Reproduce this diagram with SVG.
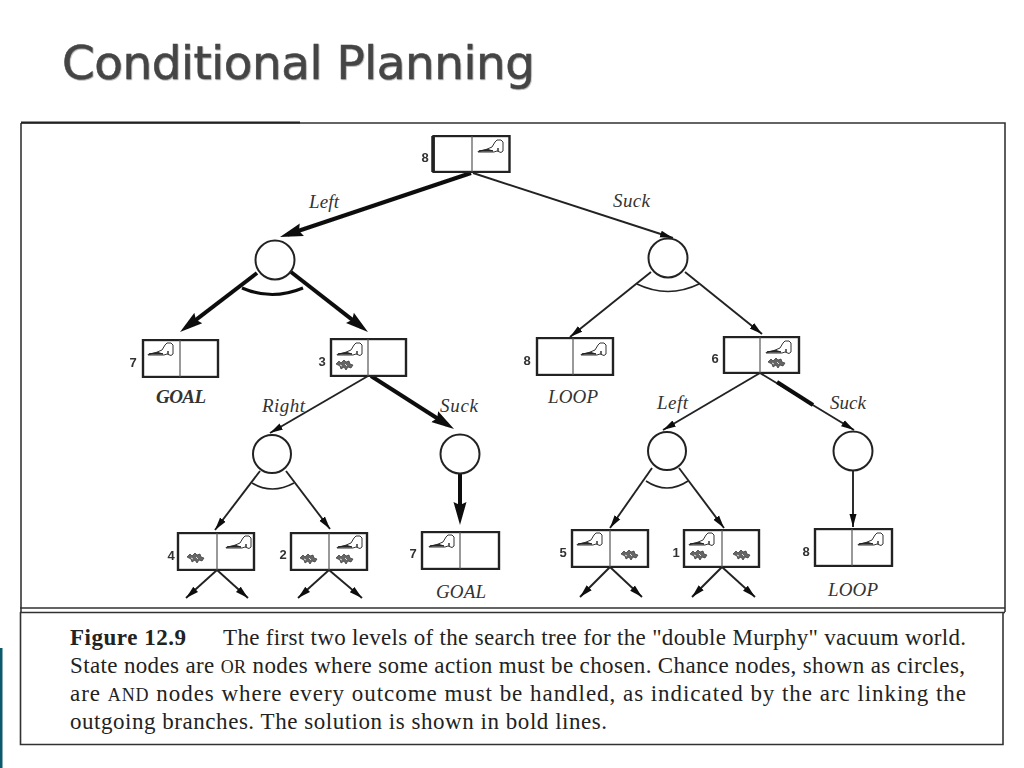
<svg xmlns="http://www.w3.org/2000/svg" xmlns:xlink="http://www.w3.org/1999/xlink" width="1024" height="768" viewBox="0 0 1024 768">
<style>
.title{font-family:"DejaVu Sans","Liberation Sans",sans-serif;font-size:47px;fill:#444;stroke:#444;stroke-width:.6}
.cap{font-family:"Liberation Serif",serif;font-size:23px;fill:#222}
.sc{font-size:18px}
.lab{font-family:"Liberation Serif",serif;font-style:italic;font-size:19px;fill:#333}
.goal{font-weight:bold}
.num{font-family:"Liberation Sans",sans-serif;font-weight:bold;font-size:13px;fill:#333;text-anchor:middle}
.box{fill:#fff;stroke:#222;stroke-width:2.4}
.div{stroke:#555;stroke-width:1.2}
.circ{fill:#fff;stroke:#222;stroke-width:2}
.thin{fill:none;stroke:#222;stroke-width:1.9;marker-end:url(#ah)}
.bold{fill:none;stroke:#111;stroke-width:4;marker-end:url(#ahb)}
.arc{fill:none;stroke:#222;stroke-width:1.6}
.arcb{fill:none;stroke:#111;stroke-width:3}
.frame{fill:none;stroke:#333;stroke-width:1.6}
</style>
<defs>
<marker id="ah" markerUnits="userSpaceOnUse" markerWidth="14" markerHeight="9" refX="13" refY="4" orient="auto"><path d="M0 .5L13 4L0 7.500z" fill="#111"/></marker>
<marker id="ahb" markerUnits="userSpaceOnUse" markerWidth="23" markerHeight="14" refX="15" refY="7" orient="auto"><path d="M0 .5L23 7L0 13.500L3 7z" fill="#111"/></marker>
<filter id="soft" x="-2%" y="-2%" width="104%" height="104%"><feGaussianBlur stdDeviation="0.4"/></filter>
<filter id="shadow" x="-5%" y="-20%" width="110%" height="140%"><feDropShadow dx="0.6" dy="0.8" stdDeviation="0.5" flood-color="#aaa"/></filter>
<g id="vac"><path d="M0 12.500L8 10.500L14 8L17 3L19 1H23L25 3V12L23 13.500L19 12L16 13H0z" fill="#fff" stroke="#333" stroke-width="1"/><path d="M1 12H15L10 10.500z" fill="#333" stroke="#222" stroke-width="1"/><path d="M20 9V12" stroke="#333" stroke-width="1.500"/></g>
<g id="dirt"><path d="M0 5l3-3 2 2 3-3 2 2 3-1 1 3 3 1-2 3-3-1-2 3-2-3-3 2-1-3z" fill="#666" stroke="#333" stroke-width=".7"/><path d="M4 6l2 1M9 5l2 2" stroke="#fff" stroke-width=".8"/></g>
</defs>

<rect width="1024" height="768" fill="#fff"/>
<rect x="0" y="648" width="2.500" height="120" fill="#0c5a6b"/>

<text class="title" x="62" y="79" textLength="473" filter="url(#shadow)">Conditional Planning</text>

<g id="frames" filter="url(#soft)">
<path class="frame" d="M21 123H1005V612M21 123V612"/>
<path d="M21 122.500H300" stroke="#222" stroke-width="2" fill="none"/>
<path class="frame" d="M20 608H1005M20 612.500H1005"/>
<path class="frame" d="M20.500 612V744.500H1003V612" stroke-width="2"/>
</g>

<g id="connectors" filter="url(#soft)">
<path class="bold" d="M471 173L287.600 234.500"/>
<path class="thin" d="M473 173L673 238"/>
<path class="bold" d="M257 273L186.400 327.100"/>
<path class="bold" d="M291 272L361.700 327.100"/>
<path class="arcb" d="M242 288Q272 301 303 288"/>
<path class="thin" d="M651 272L570 337"/>
<path class="thin" d="M685 272L762 334"/>
<path class="arc" d="M637 284Q668 299 699 284"/>
<path class="thin" d="M368 376L270 433"/>
<path class="bold" d="M371 376L447.300 424.700"/>
<path class="thin" d="M760 373L663 430"/>
<path class="thin" d="M760 373L854 430"/>
<path d="M777 382L813 405" stroke="#111" stroke-width="4" fill="none"/>
<path class="thin" d="M260 471L215 530"/>
<path class="thin" d="M286 471L330 529"/>
<path class="arc" d="M252 483Q272 495 294 483"/>
<path class="bold" d="M460 473V517"/>
<path class="thin" d="M652 468L610 528"/>
<path class="thin" d="M679 468L724 528"/>
<path class="arc" d="M646 481Q667 495 688 481"/>
<path class="thin" d="M853 470V527"/>
<path class="thin" d="M217 570L186 598"/>
<path class="thin" d="M217 570L248 598"/>
<path class="thin" d="M329 570L298 598"/>
<path class="thin" d="M329 570L362 598"/>
<path class="thin" d="M610 567L580 597"/>
<path class="thin" d="M610 567L642 597"/>
<path class="thin" d="M722 567L692 597"/>
<path class="thin" d="M722 567L755 597"/>
</g>

<g id="n-root" filter="url(#soft)"><rect class="box" x="433.500" y="136" width="76" height="36"/><path d="M433 136V172" stroke="#222" stroke-width="3.500"/><path class="div" d="M472 136V172"/><use xlink:href="#vac" href="#vac" x="478" y="139"/><text class="num" x="425" y="162">8</text></g>
<g id="c1" filter="url(#soft)"><circle class="circ" cx="275" cy="260" r="19.500"/></g>
<g id="c2" filter="url(#soft)"><circle class="circ" cx="668" cy="258" r="19.500"/></g>

<g id="n-7a" filter="url(#soft)"><rect class="box" x="143" y="340" width="75" height="37"/><path class="div" d="M180 340V377"/><use href="#vac" x="148" y="342"/><text class="num" x="133" y="367">7</text></g>
<g id="n-3" filter="url(#soft)"><rect class="box" x="331" y="339" width="75" height="37"/><path class="div" d="M368 339V376"/><use href="#vac" x="337" y="342"/><use href="#dirt" x="336" y="359"/><text class="num" x="322" y="366">3</text></g>
<g id="n-8a" filter="url(#soft)"><rect class="box" x="537" y="338" width="76" height="37"/><path class="div" d="M573 338V375"/><use href="#vac" x="581" y="342"/><text class="num" x="527" y="365">8</text></g>
<g id="n-6" filter="url(#soft)"><rect class="box" x="724" y="337" width="75" height="36"/><path class="div" d="M760 337V373"/><use href="#vac" x="766" y="340"/><use href="#dirt" x="768" y="357"/><text class="num" x="715" y="363">6</text></g>

<g id="c3" filter="url(#soft)"><circle class="circ" cx="272" cy="454" r="19"/></g>
<g id="c4" filter="url(#soft)"><circle class="circ" cx="460" cy="454" r="19.500"/></g>
<g id="c5" filter="url(#soft)"><circle class="circ" cx="667" cy="451" r="19"/></g>
<g id="c6" filter="url(#soft)"><circle class="circ" cx="853" cy="451" r="19.500"/></g>

<g id="n-4" filter="url(#soft)"><rect class="box" x="178" y="533" width="76" height="37"/><path class="div" d="M217 533V570"/><use href="#dirt" x="187" y="552"/><use href="#vac" x="226" y="535"/><text class="num" x="171" y="560">4</text></g>
<g id="n-2" filter="url(#soft)"><rect class="box" x="291" y="533" width="76" height="37"/><path class="div" d="M329 533V570"/><use href="#dirt" x="300" y="553"/><use href="#vac" x="337" y="535"/><use href="#dirt" x="336" y="553"/><text class="num" x="283" y="559">2</text></g>
<g id="n-7b" filter="url(#soft)"><rect class="box" x="422" y="532" width="77" height="37"/><path class="div" d="M460 532V569"/><use href="#vac" x="429" y="534"/><text class="num" x="413" y="558">7</text></g>
<g id="n-5" filter="url(#soft)"><rect class="box" x="572" y="530" width="76" height="37"/><path class="div" d="M610 530V567"/><use href="#vac" x="577" y="532"/><use href="#dirt" x="621" y="549"/><text class="num" x="563" y="557">5</text></g>
<g id="n-1" filter="url(#soft)"><rect class="box" x="684" y="530" width="75" height="37"/><path class="div" d="M722 530V567"/><use href="#vac" x="689" y="532"/><use href="#dirt" x="690" y="549"/><use href="#dirt" x="733" y="549"/><text class="num" x="676" y="557">1</text></g>
<g id="n-8b" filter="url(#soft)"><rect class="box" x="815" y="529" width="77" height="37"/><path class="div" d="M852 529V566"/><use href="#vac" x="858" y="532"/><text class="num" x="806" y="556">8</text></g>

<g id="labels">
<text class="lab" x="309" y="208" textLength="30">Left</text>
<text class="lab" x="613" y="207" textLength="37">Suck</text>
<text class="lab goal" x="156" y="403" textLength="50">GOAL</text>
<text class="lab" x="262" y="412" textLength="43">Right</text>
<text class="lab" x="440" y="412" textLength="38">Suck</text>
<text class="lab" x="548" y="403" textLength="50">LOOP</text>
<text class="lab" x="657" y="409" textLength="31">Left</text>
<text class="lab" x="830" y="409" textLength="36">Suck</text>
<text class="lab" x="436" y="598" textLength="50">GOAL</text>
<text class="lab" x="828" y="596" textLength="50">LOOP</text>
</g>

<g id="caption">
<text class="cap" x="70" y="645" font-weight="bold" textLength="116">Figure 12.9</text>
<text class="cap" x="223" y="645" textLength="743">The first two levels of the search tree for the "double Murphy" vacuum world.</text>
<text class="cap" x="70" y="673" textLength="895">State nodes are <tspan class="sc">OR</tspan> nodes where some action must be chosen. Chance nodes, shown as circles,</text>
<text class="cap" x="70" y="701" textLength="896">are <tspan class="sc">AND</tspan> nodes where every outcome must be handled, as indicated by the arc linking the</text>
<text class="cap" x="70" y="729" textLength="537">outgoing branches. The solution is shown in bold lines.</text>
</g>
</svg>
